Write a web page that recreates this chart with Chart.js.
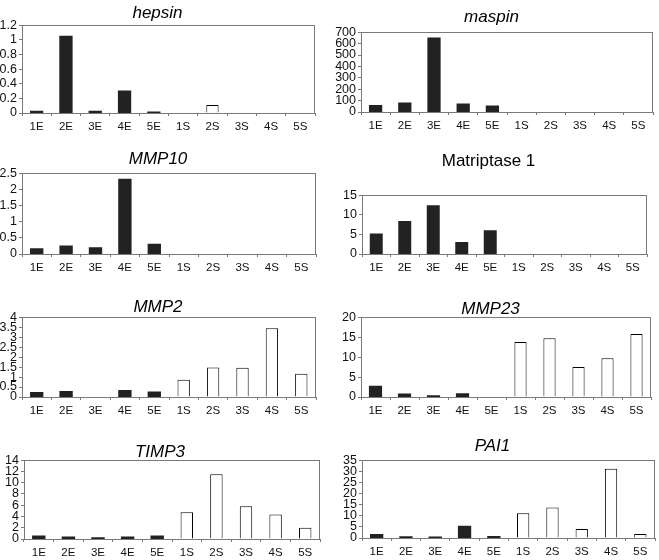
<!DOCTYPE html>
<html lang="en">
<head>
  <meta charset="UTF-8" />
  <title>Expression panels</title>
  <script src="https://cdn.jsdelivr.net/npm/chart.js"></script>
  <style>
    html,body{margin:0;padding:0;background:#fff;overflow:hidden}
    #wrap{position:relative;width:659px;height:560px}
    canvas{position:absolute}
  </style>
</head>
<body>
<div id="wrap"></div>
<script>
// --- data -------------------------------------------------------------------
const categories=['1E','2E','3E','4E','5E','1S','2S','3S','4S','5S'];

const hepsin     =[0.025,1.05,0.025,0.30,0.012,0,0.11,0,0,0];
const maspin     =[57,79,650,70,52,0,0,0,0,0];
const mmp10      =[0.16,0.25,0.19,2.31,0.30,0,0,0,0,0];
const matriptase =[5.1,8.3,12.3,2.95,5.9,0,0,0,0,0];
const mmp2       =[0.22,0.27,0,0.32,0.25,0.87,1.48,1.47,3.45,1.17];
const mmp23      =[2.7,0.75,0.3,0.8,0,13.8,14.75,7.5,9.7,15.8];
const timp3      =[0.53,0.35,0.24,0.35,0.53,4.76,11.5,5.8,4.35,2.0];
const pai1       =[1.6,0.6,0.45,5.3,0.7,11.1,13.7,4.1,31.2,1.8];

// y axis ranges: [max, step]
const yHepsin=[1.2,0.2], yMaspin=[700,100], yMmp10=[2.5,0.5], yMatriptase=[15,5];
const yMmp2=[4,0.5], yMmp23=[20,5], yTimp3=[14,2], yPai1=[35,5];

// --- layout (plot rects in page px) ------------------------------------------
const panels=[
  {title:'hepsin',      italic:true,  data:hepsin,     y:yHepsin,     col:0,   plot:[22,25,315,113],  titleY:13},
  {title:'maspin',      italic:true,  data:maspin,     y:yMaspin,     col:330, plot:[361,32,653,112], titleY:17},
  {title:'MMP10',       italic:true,  data:mmp10,      y:yMmp10,      col:0,   plot:[22,173,316,254], titleY:159},
  {title:'Matriptase 1',italic:false, data:matriptase, y:yMatriptase, col:330, plot:[362,195,647,254],titleY:161},
  {title:'MMP2',        italic:true,  data:mmp2,       y:yMmp2,       col:0,   plot:[22,317,316,397], titleY:307},
  {title:'MMP23',       italic:true,  data:mmp23,      y:yMmp23,      col:330, plot:[361,317,651,397],titleY:309},
  {title:'TIMP3',       italic:true,  data:timp3,      y:yTimp3,      col:0,   plot:[24,460,320,539], titleY:452},
  {title:'PAI1',        italic:true,  data:pai1,       y:yPai1,       col:330, plot:[362,460,655,538],titleY:446}
];

const FONT='"Liberation Sans", Arial, Helvetica, sans-serif';
const TITLE_SIZE=17, XAXIS_H=20;

// grey frame round the plot area
const frame={
  id:'frame',
  afterDatasetsDraw(chart){
    const a=chart.chartArea, c=chart.ctx;
    c.save();
    c.strokeStyle='#7a7a7a';
    c.lineWidth=1;
    c.strokeRect(Math.round(a.left)+0.5,Math.round(a.top)+0.5,Math.round(a.right-a.left)-1,Math.round(a.bottom-a.top));
    c.restore();
  }
};

const fmt=v=>String(+v.toFixed(3));
const wrap=document.getElementById('wrap');

panels.forEach(p=>{
  const [l,t,r,b]=p.plot;
  const yW=l-p.col;
  const top=p.titleY-TITLE_SIZE*1.2/2;
  const height=Math.round(b+XAXIS_H-top);
  const width=r-l+2*yW;
  const cv=document.createElement('canvas');
  cv.width=width; cv.height=height;
  cv.style.left=(l-yW)+'px'; cv.style.top=top+'px';
  wrap.appendChild(cv);

  const dark=categories.map(c=>c.endsWith('E'));
  new Chart(cv,{
    type:'bar',
    data:{labels:categories,datasets:[{
      data:p.data,
      backgroundColor:dark.map(d=>d?'#222':'#fff'),
      borderColor:'#000',
      borderWidth:dark.map(d=>d?0:1),
      // thin dark bars get half a pixel extra so they stay solid
      inflateAmount:ctx=>(dark[ctx.dataIndex]&&ctx.raw>0)?0.5:0,
      barPercentage:0.42,
      categoryPercentage:1
    }]},
    options:{
      responsive:false,
      animation:false,
      layout:{padding:{left:0,right:yW,top:0,bottom:0}},
      plugins:{
        legend:{display:false},
        tooltip:{enabled:false},
        title:{display:true,text:p.title,color:'#000',
          font:{family:FONT,size:TITLE_SIZE,style:p.italic?'italic':'normal',weight:'normal',lineHeight:1.2},
          padding:{top:0,bottom:t-p.titleY-TITLE_SIZE*1.2/2}}
      },
      scales:{
        x:{
          grid:{drawOnChartArea:false,tickLength:3,color:'#7a7a7a',offset:true},
          border:{display:false},
          ticks:{font:{family:FONT,size:11.5},color:'#111',padding:4,maxRotation:0,autoSkip:false},
          afterFit:s=>{s.height=XAXIS_H}
        },
        y:{
          min:0,max:p.y[0],
          grid:{drawOnChartArea:false,tickLength:3,color:'#7a7a7a'},
          border:{display:false},
          ticks:{stepSize:p.y[1],autoSkip:false,font:{family:FONT,size:12.5},color:'#111',padding:2,callback:fmt},
          afterFit:s=>{s.width=yW}
        }
      }
    },
    plugins:[frame]
  });
});
</script>
</body>
</html>
